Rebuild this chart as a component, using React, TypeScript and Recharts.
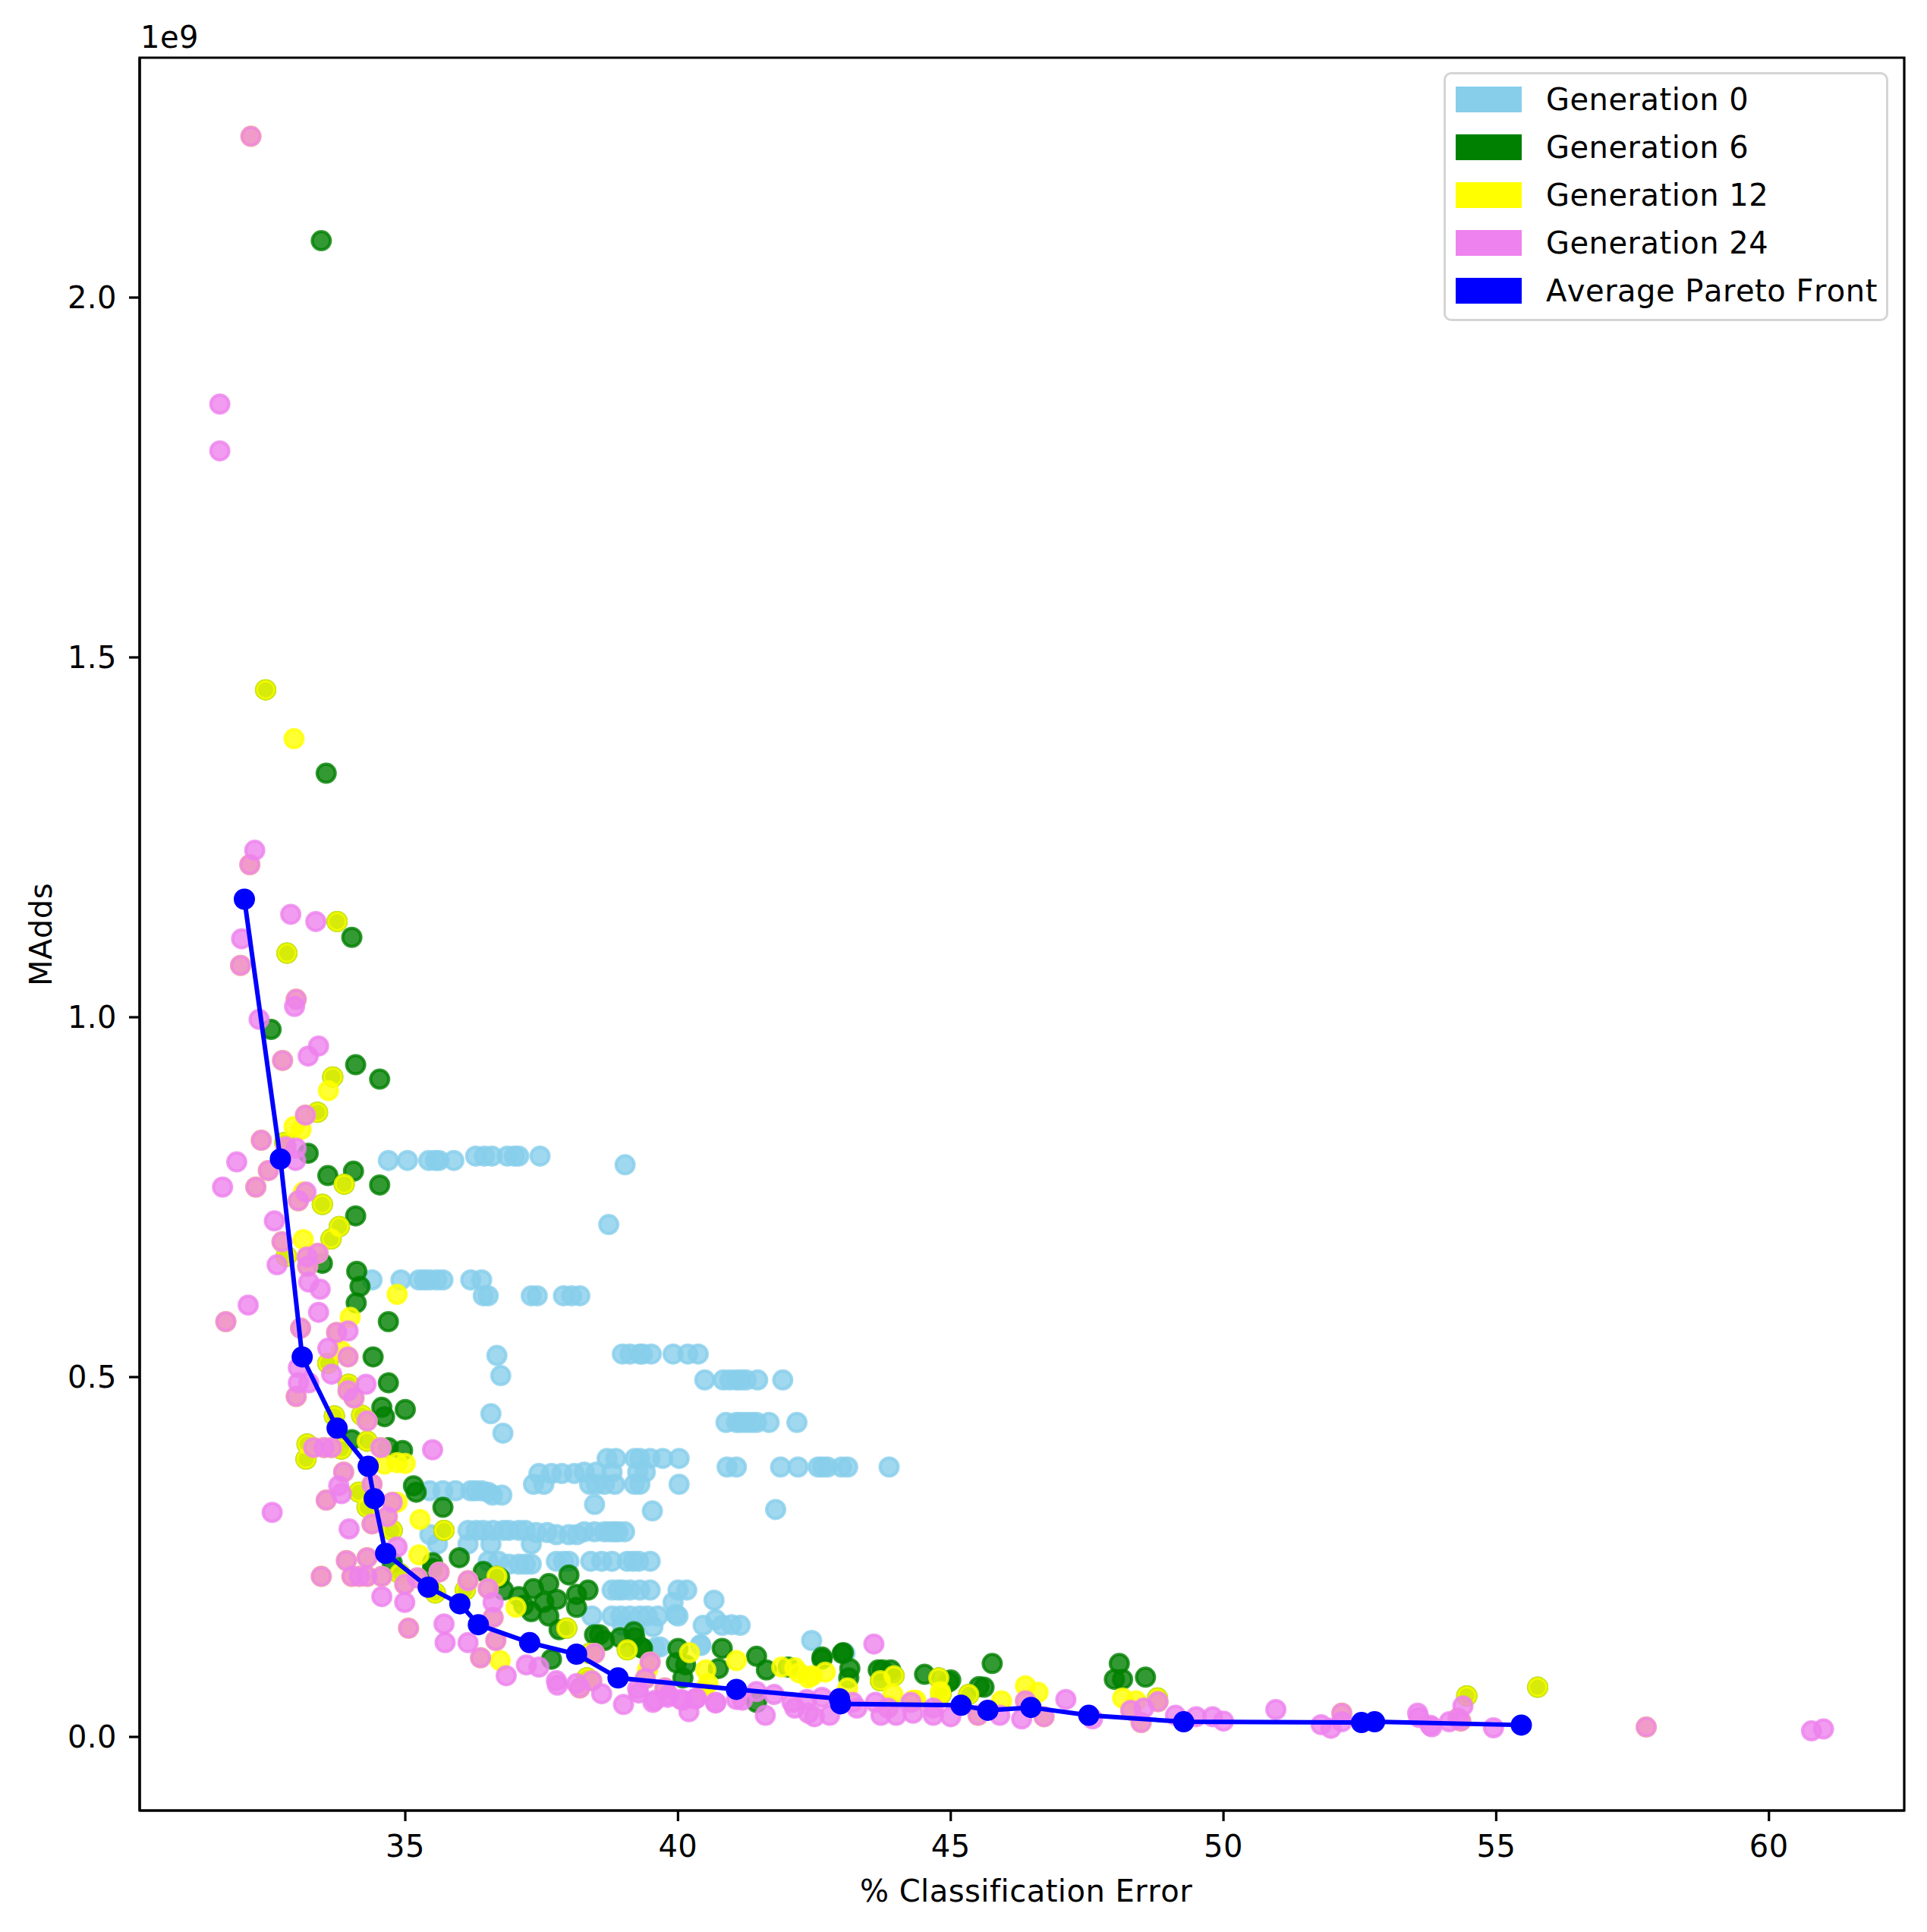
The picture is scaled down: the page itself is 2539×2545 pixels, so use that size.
import React from 'react';
import { ScatterChart, Scatter, XAxis, YAxis, ReferenceArea, Legend, Label } from 'recharts';

const FONT = '"DejaVu Sans", sans-serif';

// [% classification error, MAdds in units of 1e9]
const gen0: [number, number][] = [
  [34.69, 0.801], [35.04, 0.801], [35.43, 0.801], [35.55, 0.801], [35.62, 0.801], [35.89, 0.801],
  [36.29, 0.807], [36.45, 0.807], [36.59, 0.807], [36.87, 0.807], [37.0, 0.807], [37.08, 0.807], [37.47, 0.807],
  [39.03, 0.795], [38.73, 0.712],
  [34.39, 0.635], [34.92, 0.635], [35.25, 0.635], [35.35, 0.635], [35.45, 0.635], [35.58, 0.635], [35.69, 0.635],
  [36.2, 0.635], [36.4, 0.635],
  [36.43, 0.613], [36.52, 0.613], [37.31, 0.613], [37.42, 0.613], [37.9, 0.613], [38.05, 0.613], [38.2, 0.613],
  [36.68, 0.53], [36.75, 0.502], [36.57, 0.449], [36.79, 0.422],
  [38.98, 0.532], [39.12, 0.532], [39.3, 0.532], [39.35, 0.532], [39.51, 0.532], [39.91, 0.532], [40.18, 0.532], [40.37, 0.532],
  [40.49, 0.496], [40.83, 0.496], [40.95, 0.496], [41.07, 0.496], [41.15, 0.496], [41.25, 0.496], [41.46, 0.496], [41.92, 0.496],
  [40.88, 0.437], [41.07, 0.437], [41.15, 0.437], [41.25, 0.437], [41.35, 0.437], [41.44, 0.437], [41.67, 0.437], [42.18, 0.437],
  [38.7, 0.387], [38.86, 0.387], [39.21, 0.387], [39.3, 0.387], [39.49, 0.387], [39.72, 0.387], [40.02, 0.387],
  [40.9, 0.375], [41.07, 0.375], [41.88, 0.375], [42.2, 0.375], [42.57, 0.375], [42.65, 0.375], [42.74, 0.375],
  [43.0, 0.375], [43.11, 0.375], [43.87, 0.375],
  [38.28, 0.368], [38.5, 0.368], [38.79, 0.368], [39.26, 0.368], [39.4, 0.368],
  [37.45, 0.366], [37.68, 0.366], [37.87, 0.366], [38.1, 0.366], [37.35, 0.351], [37.54, 0.351],
  [38.38, 0.351], [38.5, 0.351], [38.65, 0.351], [38.84, 0.351], [39.2, 0.351], [39.3, 0.351], [40.02, 0.351],
  [38.47, 0.323], [39.53, 0.314], [41.79, 0.316],
  [35.45, 0.342], [35.69, 0.342], [35.92, 0.342], [36.2, 0.342], [36.29, 0.342], [36.4, 0.342], [36.52, 0.34],
  [36.6, 0.336], [36.77, 0.336],
  [36.15, 0.287], [36.3, 0.287], [36.43, 0.287], [36.61, 0.287], [36.8, 0.287], [36.9, 0.287], [37.08, 0.287],
  [37.2, 0.287], [37.4, 0.284], [37.6, 0.284], [37.77, 0.281], [38.0, 0.281], [38.15, 0.281],
  [38.28, 0.285], [38.47, 0.285], [38.65, 0.285], [38.75, 0.285], [38.84, 0.285], [38.9, 0.285], [39.02, 0.285],
  [35.45, 0.281], [35.59, 0.268], [36.15, 0.268], [36.57, 0.268], [37.31, 0.268],
  [36.52, 0.244], [36.71, 0.244], [36.9, 0.24], [37.08, 0.24], [37.2, 0.24], [37.31, 0.24], [37.77, 0.244],
  [37.9, 0.244], [38.0, 0.244], [38.4, 0.244], [38.6, 0.244], [38.79, 0.244], [39.07, 0.244], [39.18, 0.244],
  [39.28, 0.244], [39.49, 0.244],
  [38.79, 0.204], [38.9, 0.204], [38.98, 0.204], [39.12, 0.204], [39.3, 0.204], [39.49, 0.204], [40.0, 0.204], [40.16, 0.204],
  [39.91, 0.187], [40.66, 0.19],
  [38.42, 0.168], [38.79, 0.168], [38.95, 0.168], [39.12, 0.168], [39.3, 0.168], [39.44, 0.168], [39.63, 0.168], [40.0, 0.168],
  [40.46, 0.155], [40.81, 0.155], [41.14, 0.155], [40.69, 0.163], [38.98, 0.155], [42.45, 0.134],
  [39.54, 0.153], [39.67, 0.125], [40.42, 0.127], [43.06, 0.116],
  [39.96, 0.17], [40.98, 0.156], [40.41, 0.128], [39.58, 0.124],
];

const gen6: [number, number][] = [
  [33.46, 2.079], [32.44, 1.455], [33.55, 1.339],
  [34.02, 1.111], [32.83, 1.089], [33.75, 1.133], [32.54, 0.983], [34.09, 0.934], [34.53, 0.914], [33.67, 0.917],
  [33.39, 0.868], [32.79, 0.826], [33.22, 0.811], [33.58, 0.78], [34.05, 0.786], [33.88, 0.768], [34.53, 0.767],
  [33.48, 0.74], [34.09, 0.724], [33.79, 0.709], [33.64, 0.692], [32.82, 0.668], [33.48, 0.658], [34.11, 0.647],
  [34.17, 0.626],
  [34.1, 0.603], [34.69, 0.577], [34.41, 0.528], [33.58, 0.519], [33.96, 0.49], [34.69, 0.492], [34.57, 0.458],
  [34.62, 0.445], [35.0, 0.455], [33.7, 0.446], [34.2, 0.447], [34.02, 0.413], [34.3, 0.411], [34.69, 0.402],
  [34.95, 0.398], [33.2, 0.407], [33.18, 0.386], [33.83, 0.4], [34.15, 0.34], [34.3, 0.319], [35.15, 0.349],
  [35.2, 0.34], [34.76, 0.287], [35.69, 0.319], [35.71, 0.287], [34.76, 0.242], [35.5, 0.242], [35.5, 0.234],
  [35.99, 0.249], [34.9, 0.227], [35.55, 0.2], [36.43, 0.23], [36.8, 0.204], [36.73, 0.221], [36.68, 0.223],
  [36.1, 0.204], [37.17, 0.183], [37.31, 0.174], [37.54, 0.187], [37.08, 0.195], [37.35, 0.206], [37.63, 0.213],
  [38.0, 0.225], [37.63, 0.168], [37.82, 0.149], [37.96, 0.151], [37.68, 0.108], [38.14, 0.198], [38.14, 0.18],
  [38.35, 0.204], [37.78, 0.191],
  [38.47, 0.142], [38.65, 0.134], [39.21, 0.138], [39.35, 0.123], [40.0, 0.123], [40.14, 0.1], [40.81, 0.123],
  [40.74, 0.095], [41.44, 0.112], [41.62, 0.093], [42.02, 0.097], [42.64, 0.108], [43.01, 0.116], [43.15, 0.095],
  [43.13, 0.082], [43.75, 0.093], [43.9, 0.093], [44.52, 0.087], [44.96, 0.076], [45.52, 0.07], [41.44, 0.048],
  [38.56, 0.142], [38.94, 0.138], [39.19, 0.146], [40.09, 0.082], [39.97, 0.103], [39.33, 0.124],
  [42.64, 0.111], [43.03, 0.117], [43.67, 0.093], [45.0, 0.079],
  [39.07, 0.121], [38.38, 0.116], [38.33, 0.082], [43.71, 0.078], [43.96, 0.085], [44.78, 0.082], [44.82, 0.059],
  [45.33, 0.059],
  [45.76, 0.102], [45.61, 0.069], [48.09, 0.102], [48.0, 0.08], [48.15, 0.08], [48.57, 0.083], [48.79, 0.054],
  [54.46, 0.057], [55.76, 0.069],
];

const gen12: [number, number][] = [
  // shared with generation 6
  [32.44, 1.455], [33.75, 1.133], [32.83, 1.089], [33.67, 0.917], [33.39, 0.868], [32.79, 0.826], [33.88, 0.768],
  [33.48, 0.74], [33.79, 0.709], [33.64, 0.692], [32.82, 0.668], [33.58, 0.519], [33.96, 0.49], [33.7, 0.446],
  [34.2, 0.447], [34.3, 0.411], [33.2, 0.407], [33.18, 0.386], [33.83, 0.4], [34.15, 0.34], [34.3, 0.319],
  [34.76, 0.287], [35.71, 0.287], [34.9, 0.227], [35.55, 0.2], [36.68, 0.223], [36.1, 0.204], [37.96, 0.151],
  [39.07, 0.121], [38.38, 0.116], [38.33, 0.082], [43.71, 0.078], [43.96, 0.085], [44.78, 0.082], [44.82, 0.059],
  [45.33, 0.059], [48.79, 0.054], [54.46, 0.057], [55.76, 0.069],
  // own
  [32.96, 1.387], [33.59, 0.898], [32.96, 0.848], [33.09, 0.844], [33.13, 0.757], [33.13, 0.691], [34.85, 0.615],
  [33.99, 0.583], [33.83, 0.536], [34.85, 0.381], [34.62, 0.379], [35.0, 0.38], [34.85, 0.326], [35.27, 0.302],
  [35.25, 0.253], [36.74, 0.106], [37.03, 0.18], [39.44, 0.093], [40.21, 0.117], [40.51, 0.093], [40.55, 0.074],
  [41.07, 0.106], [41.9, 0.097], [42.22, 0.089], [42.46, 0.085], [43.11, 0.068], [43.94, 0.059], [44.36, 0.051],
  [40.47, 0.064], [42.14, 0.096], [42.39, 0.082], [42.7, 0.09], [43.86, 0.043], [44.31, 0.051], [44.81, 0.063],
  [46.37, 0.071], [46.6, 0.062], [45.93, 0.05], [48.15, 0.054], [48.4, 0.05],
  // shared with generation 24
  [32.17, 2.224], [32.15, 1.212], [31.98, 1.072], [33.0, 1.025], [32.75, 0.94], [33.17, 0.864], [32.36, 0.829],
  [32.81, 0.82], [32.49, 0.787], [32.26, 0.764], [33.04, 0.745], [32.74, 0.688], [33.2, 0.667], [33.4, 0.672],
  [33.21, 0.654], [31.71, 0.577], [33.08, 0.568], [33.74, 0.562], [33.95, 0.528], [33.0, 0.473], [34.06, 0.471],
  [33.95, 0.481], [34.3, 0.439], [34.55, 0.402], [33.32, 0.402], [33.51, 0.402], [33.65, 0.402], [33.87, 0.368],
  [33.55, 0.329], [34.39, 0.351], [34.76, 0.326], [34.39, 0.296], [34.67, 0.306], [33.92, 0.245], [34.3, 0.249],
  [33.46, 0.223], [34.02, 0.223], [34.16, 0.223], [34.3, 0.223], [34.57, 0.223], [34.99, 0.212], [35.22, 0.221],
  [35.62, 0.229], [36.15, 0.217], [36.52, 0.206], [35.06, 0.151], [36.38, 0.11], [36.61, 0.166], [36.66, 0.134],
  [38.47, 0.116], [38.42, 0.078], [39.49, 0.104], [39.4, 0.081], [38.2, 0.068], [39.76, 0.068],
  [46.37, 0.05], [46.71, 0.028], [45.5, 0.03],
  [48.8, 0.049], [48.3, 0.037], [48.49, 0.02], [52.17, 0.033], [54.3, 0.026], [54.35, 0.022], [57.75, 0.0137],
];

const gen24: [number, number][] = [
  [31.6, 1.852], [31.6, 1.787], [32.24, 1.232], [32.9, 1.143], [33.36, 1.133], [32.0, 1.109], [32.97, 1.015],
  [32.32, 0.997], [33.41, 0.96], [33.22, 0.946], [33.0, 0.818], [32.99, 0.801], [31.91, 0.799], [31.65, 0.764],
  [33.18, 0.757], [32.6, 0.717], [32.65, 0.656], [33.23, 0.632], [33.44, 0.622],
  [32.12, 0.6], [33.41, 0.59], [33.95, 0.564], [33.58, 0.54], [33.04, 0.513], [33.65, 0.504], [33.04, 0.492],
  [33.23, 0.492], [34.28, 0.49], [33.78, 0.349], [33.83, 0.338], [32.56, 0.312], [33.97, 0.289], [34.85, 0.264],
  [34.99, 0.187], [34.57, 0.195], [35.5, 0.399], [35.71, 0.157], [35.73, 0.131], [36.15, 0.131], [36.85, 0.085],
  [36.61, 0.187], [37.22, 0.1], [37.45, 0.097], [37.77, 0.078], [38.14, 0.074], [37.79, 0.072],
  [43.59, 0.129], [39.26, 0.067], [39.54, 0.048], [39.81, 0.055], [40.05, 0.052], [40.32, 0.053], [40.69, 0.048],
  [41.07, 0.052], [41.44, 0.063], [41.76, 0.059], [42.09, 0.048], [42.36, 0.052], [42.64, 0.055], [43.2, 0.048],
  [43.62, 0.048], [43.85, 0.04], [44.27, 0.048], [44.68, 0.04],
  [39.28, 0.061], [39.58, 0.051], [39.83, 0.058], [40.09, 0.051], [40.34, 0.054], [40.69, 0.047],
  [41.18, 0.051], [42.14, 0.04], [42.39, 0.033], [42.78, 0.03], [43.28, 0.04], [43.72, 0.03], [44.31, 0.033],
  [44.68, 0.03],
  [47.11, 0.052], [47.6, 0.025], [48.54, 0.04], [49.12, 0.03], [49.5, 0.028], [49.8, 0.028], [50.0, 0.022],
  [50.96, 0.038], [51.79, 0.017], [51.97, 0.012], [52.17, 0.021], [53.56, 0.033], [53.58, 0.027], [53.79, 0.016],
  [53.82, 0.014], [54.14, 0.021], [54.39, 0.043], [54.95, 0.0127], [60.78, 0.0084], [61.0, 0.011],
  [40.2, 0.035], [41.6, 0.03], [42.5, 0.028], [44.0, 0.03], [45.0, 0.028], [39.0, 0.045], [38.6, 0.06],
  [45.9, 0.03], [46.3, 0.025],
  // shared with generation 12
  [32.17, 2.224], [32.15, 1.212], [31.98, 1.072], [33.0, 1.025], [32.75, 0.94], [33.17, 0.864], [32.36, 0.829],
  [32.81, 0.82], [32.49, 0.787], [32.26, 0.764], [33.04, 0.745], [32.74, 0.688], [33.2, 0.667], [33.4, 0.672],
  [33.21, 0.654], [31.71, 0.577], [33.08, 0.568], [33.74, 0.562], [33.95, 0.528], [33.0, 0.473], [34.06, 0.471],
  [33.95, 0.481], [34.3, 0.439], [34.55, 0.402], [33.32, 0.402], [33.51, 0.402], [33.65, 0.402], [33.87, 0.368],
  [33.55, 0.329], [34.39, 0.351], [34.76, 0.326], [34.39, 0.296], [34.67, 0.306], [33.92, 0.245], [34.3, 0.249],
  [33.46, 0.223], [34.02, 0.223], [34.16, 0.223], [34.3, 0.223], [34.57, 0.223], [34.99, 0.212], [35.22, 0.221],
  [35.62, 0.229], [36.15, 0.217], [36.52, 0.206], [35.06, 0.151], [36.38, 0.11], [36.61, 0.166], [36.66, 0.134],
  [38.47, 0.116], [38.42, 0.078], [39.49, 0.104], [39.4, 0.081], [38.2, 0.068], [39.76, 0.068],
  [46.37, 0.05], [46.71, 0.028], [45.5, 0.03],
  [48.8, 0.049], [48.3, 0.037], [48.49, 0.02], [52.17, 0.033], [54.3, 0.026], [54.35, 0.022], [57.75, 0.0137],
];

const paretoFront: [number, number][] = [
  [32.05, 1.164], [32.71, 0.803], [33.11, 0.528], [33.75, 0.429], [34.32, 0.376], [34.43, 0.331], [34.64, 0.255],
  [35.42, 0.208], [36.0, 0.185], [36.34, 0.156], [37.28, 0.131], [38.14, 0.115], [38.9, 0.082], [41.07, 0.066],
  [42.96, 0.053], [42.98, 0.046], [45.19, 0.044], [45.68, 0.037], [46.47, 0.041], [47.53, 0.030], [49.27, 0.021],
  [52.53, 0.020], [52.77, 0.021], [55.46, 0.0165],
];

const xTicks = [35, 40, 45, 50, 55, 60];
const yTicks = [0, 0.5, 1.0, 1.5, 2.0];
const X_DOMAIN: [number, number] = [30.13, 62.48];
const Y_DOMAIN: [number, number] = [-0.1023, 2.3333];

const legendItems = [
  { label: 'Generation 0', color: '#87ceeb' },
  { label: 'Generation 6', color: '#008000' },
  { label: 'Generation 12', color: '#ffff00' },
  { label: 'Generation 24', color: '#ee82ee' },
  { label: 'Average Pareto Front', color: '#0000ff' },
];

const toPoints = (arr: [number, number][]) => arr.map(([x, y]) => ({ x, y }));

const dot = (color: string, alpha: number) => (p: any) => (
  <circle
    cx={p.cx}
    cy={p.cy}
    r={12}
    fill={color}
    fillOpacity={alpha}
    stroke={color}
    strokeOpacity={alpha}
    strokeWidth={4}
  />
);

function LegendBox() {
  return (
    <div
      style={{
        position: 'relative',
        width: 586,
        height: 328,
        boxSizing: 'border-box',
        border: '3px solid #d5d5d5',
        borderRadius: 10,
        background: 'rgba(255,255,255,0.8)',
        fontFamily: FONT,
        fontSize: 40,
        fontKerning: 'none',
        letterSpacing: '0.5px',
        color: '#000',
      }}
    >
      {legendItems.map((it, i) => (
        <div key={it.label}>
          <div
            style={{
              position: 'absolute',
              left: 13,
              top: 16 + i * 63,
              width: 87,
              height: 34,
              background: it.color,
            }}
          />
          <div
            style={{
              position: 'absolute',
              left: 132,
              top: 33 + i * 63 - 30,
              height: 60,
              lineHeight: '60px',
              whiteSpace: 'nowrap',
            }}
          >
            {it.label}
          </div>
        </div>
      ))}
    </div>
  );
}

const axisStroke = { stroke: '#000', strokeWidth: 3.2 };
const tickStyle = { fontSize: 40, fill: '#000', fontFamily: FONT };

export default function App() {
  return (
    <div
      style={{
        position: 'absolute',
        left: 0,
        top: 0,
        width: 2539,
        height: 2545,
        background: '#fff',
        fontFamily: FONT,
        fontKerning: 'none',
        letterSpacing: '0.5px',
      }}
    >
      <ScatterChart width={2539} height={2545} margin={{ top: 76, right: 30, left: 0, bottom: 0 }}>
        <XAxis
          type="number"
          dataKey="x"
          domain={X_DOMAIN}
          ticks={xTicks}
          interval={0}
          allowDataOverflow
          height={160}
          tick={tickStyle}
          tickSize={14}
          tickMargin={19}
          tickLine={axisStroke}
          axisLine={axisStroke}
        >
          <Label
            content={() => (
              <text x={1352} y={2505} textAnchor="middle" fontSize={40} fontFamily={FONT} fill="#000">
                % Classification Error
              </text>
            )}
          />
        </XAxis>
        <YAxis
          type="number"
          dataKey="y"
          domain={Y_DOMAIN}
          ticks={yTicks}
          interval={0}
          allowDataOverflow
          width={184}
          tick={tickStyle}
          tickSize={14}
          tickMargin={16}
          tickLine={axisStroke}
          axisLine={axisStroke}
          tickFormatter={(v: number) => v.toFixed(1)}
        >
          <Label
            content={() => (
              <text
                x={54}
                y={1231}
                transform="rotate(-90 54 1231)"
                textAnchor="middle"
                dominantBaseline="central"
                fontSize={40}
                fontFamily={FONT}
                fill="#000"
              >
                MAdds
              </text>
            )}
          />
          <Label
            content={() => (
              <text x={185} y={63} fontSize={40} fontFamily={FONT} fill="#000">
                1e9
              </text>
            )}
          />
        </YAxis>
        <ReferenceArea
          x1={X_DOMAIN[0]}
          x2={X_DOMAIN[1]}
          y1={Y_DOMAIN[0]}
          y2={Y_DOMAIN[1]}
          fill="none"
          stroke="#000"
          strokeWidth={3.2}
          ifOverflow="visible"
        />
        <Scatter data={toPoints(gen0)} shape={dot('#87ceeb', 0.8)} isAnimationActive={false} />
        <Scatter data={toPoints(gen6)} shape={dot('#008000', 0.8)} isAnimationActive={false} />
        <Scatter data={toPoints(gen12)} shape={dot('#ffff00', 0.8)} isAnimationActive={false} />
        <Scatter data={toPoints(gen24)} shape={dot('#ee82ee', 0.8)} isAnimationActive={false} />
        <Scatter
          data={toPoints(paretoFront)}
          shape={dot('#0000ff', 1)}
          line={{ stroke: '#0000ff', strokeWidth: 6 }}
          lineType="joint"
          isAnimationActive={false}
        />
        <Legend
          layout="vertical"
          align="center"
          verticalAlign="middle"
          content={() => <LegendBox />}
          wrapperStyle={{ left: 1902, top: 95, width: 586, height: 328, right: 'auto', bottom: 'auto' }}
        />
      </ScatterChart>
    </div>
  );
}
